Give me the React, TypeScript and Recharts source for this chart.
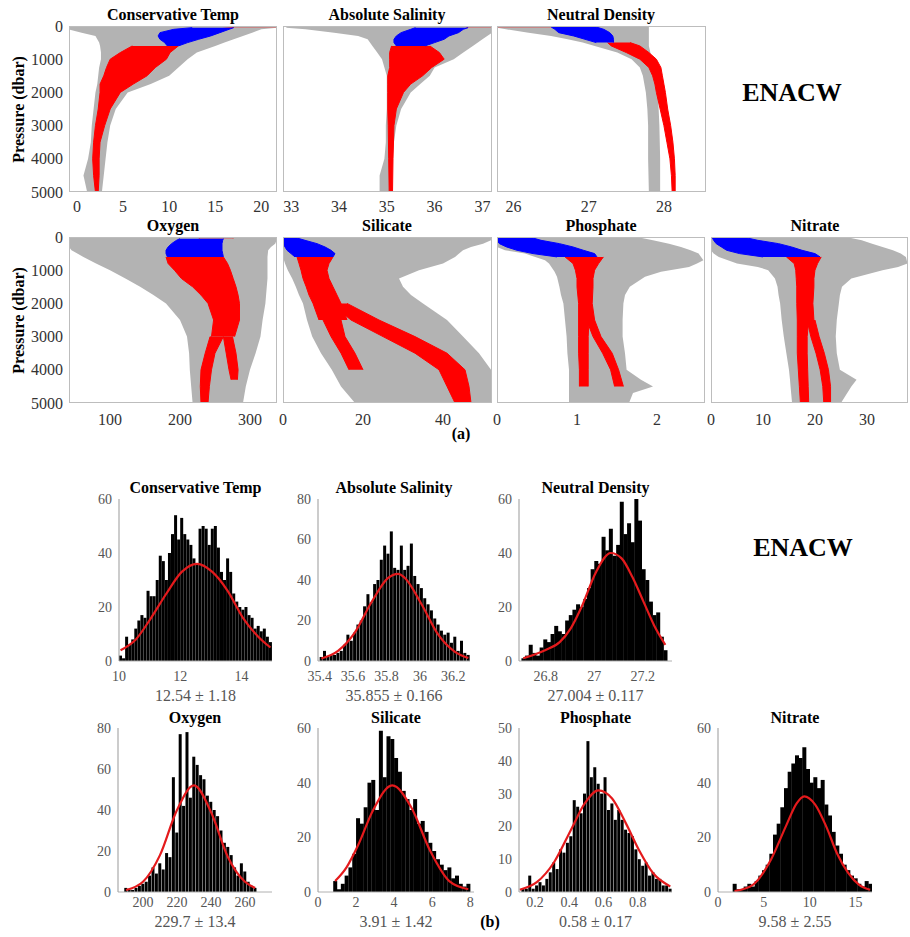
import { ComposedChart, Area, Bar, Line, XAxis, YAxis } from "recharts"

const SERIF = '"Liberation Serif", "DejaVu Serif", serif'
const GRAY = "#b3b3b3"
const RED = "#ff0000"
const BLUE = "#0000ff"
const FIT = "#e41a1c"

const pressureTicks = [0, 1000, 2000, 3000, 4000, 5000]

// ---- (a) profiles: [pressure, low, high] ----
const ctGray = [[0,-0.9,21.7],[50,-0.9,21.7],[100,-0.9,20],[200,0.5,19],[300,2,18],[400,2.2,17],[500,2.4,16],[600,2.5,15],[800,2.6,13],[1000,2.6,12],[1250,2.4,11],[1500,2.3,10],[1750,2.2,8],[2000,2,5.5],[2500,1.8,4.2],[3000,1.6,3.6],[3500,1.5,3.3],[4000,1.2,3.1],[4500,0.7,2.9],[5000,1.1,2.7]]
const ctRed = [[600,6,11],[800,4.7,10.1],[1000,3.6,9.7],[1250,3.2,8.5],[1500,2.9,7.6],[1750,2.5,6.1],[2000,2.5,4.7],[2500,2.3,3.6],[3000,2,3],[3500,1.8,2.5],[4000,1.7,2.4],[4500,1.8,2.4],[5000,2,2.3]]
const ctRedTop = [[0,15,21.7],[40,17,21.7]]
const ctBlue = [[50,12.5,17],[100,10.5,16.5],[200,9,15.5],[300,8.8,14.5],[400,9,13.2],[500,9.5,12],[600,9.8,11]]

const asGray = [[0,32.9,37.2],[50,32.9,37.2],[100,33.3,37.2],[200,33.9,37.2],[300,34.4,37.1],[400,34.6,37],[600,34.7,36.8],[800,34.8,36.6],[1000,34.9,36.4],[1250,34.95,36],[1500,35,35.9],[1750,35,35.7],[2000,35,35.5],[2500,35,35.3],[3000,34.98,35.2],[3500,34.98,35.15],[4000,34.95,35.12],[4500,34.85,35.1],[5000,34.85,35.1]]
const asRed = [[600,35.1,35.9],[800,35.06,36.1],[1000,35.06,36.2],[1250,35.06,35.94],[1500,35.02,35.75],[1750,35.02,35.5],[2000,35.02,35.35],[2500,35.02,35.2],[3000,35.03,35.15],[4000,35.04,35.13],[5000,35.05,35.12]]
const asRedTop = [[0,36.6,37.2],[40,36.7,37.2]]
const asBlue = [[50,35.6,36.7],[100,35.5,36.6],[200,35.3,36.5],[300,35.2,36.3],[400,35.15,36.2],[500,35.15,36],[600,35.2,35.8]]

const ndGray = [[0,25.78,27.8],[50,25.78,27.8],[100,25.9,27.8],[200,26.2,27.8],[300,26.5,27.8],[400,26.72,27.8],[500,26.92,27.8],[600,27.08,27.8],[800,27.38,27.82],[1000,27.57,27.84],[1250,27.68,27.86],[1500,27.72,27.88],[2000,27.76,27.92],[2500,27.78,27.93],[3000,27.79,27.94],[4000,27.79,27.95],[5000,27.8,27.95]]
const ndRed = [[500,27.25,27.55],[600,27.3,27.68],[800,27.5,27.8],[1000,27.68,27.9],[1250,27.8,27.96],[1500,27.85,27.98],[1750,27.88,28],[2000,27.9,28.02],[2500,27.95,28.05],[3000,28,28.09],[3500,28.04,28.12],[4000,28.08,28.14],[4500,28.1,28.15],[5000,28.11,28.15]]
const ndRedTop = [[0,25.78,27.1],[40,25.78,27]]
const ndBlue = [[30,26.5,27.1],[100,26.55,27.2],[200,26.6,27.28],[300,26.8,27.32],[400,26.95,27.33],[500,27.1,27.33]]

const o2Gray = [[0,41.4,338],[100,41.4,338],[200,41.4,336],[300,41.4,330],[400,45,326],[600,62,325],[800,80,325],[1000,100,325],[1250,122,325],[1500,143,324],[1750,162,323],[2000,180,322],[2500,200,318],[3000,210,315],[3500,213,308],[4000,214,300],[4500,216,294],[5000,218,290]]
const o2Red = [[600,180,262],[800,183,268],[1000,192,272],[1250,202,276],[1500,218,280],[1750,230,283],[2000,240,285],[2500,248,285],[3000,245,278]]
const o2RedL = [[3000,243,262],[3500,236,250],[4000,230,245],[4500,229,242],[5000,230,240]]
const o2RedR = [[3000,262,275],[3500,266,280],[4000,270,283],[4300,273,282]]
const o2RedTop = [[0,225,276],[40,228,276]]
const o2Blue = [[50,200,262],[100,195,261],[200,188,260],[300,183,260],[400,180,260],[500,180,261],[600,182,262]]

const siGray = [[0,0,52],[100,0,52],[200,0,50],[300,0,47],[400,0,45],[600,0,43],[800,0.5,40],[1000,1.2,34],[1250,2.3,29],[1500,3.2,30],[1750,4,32],[2000,5,35],[2500,6,41],[3000,7.3,45],[3500,9.5,49],[4000,12.2,52],[4500,14.5,52],[5000,18,52]]
const siRed = [[600,3.5,12.5],[800,4,11.5],[1000,4.5,11],[1250,5,11.5],[1500,5.8,12.5],[1750,6.5,13.5],[2000,7.5,14.5],[2500,9,16]]
const siRedL = [[2500,10,14.5],[3000,12,15.5],[3500,14.5,18],[4000,16.5,20]]
const siRedR = [[2000,12,16],[2500,17,24],[3000,25,33],[3500,33,41],[4000,39,45.5],[4500,41,46.5],[5000,43,47]]
const siRedTop = [[0,0,1.8],[40,0,1.5]]
const siBlue = [[30,0,3.5],[100,0,5.5],[200,0,8.5],[300,0.5,10.5],[400,1,12],[500,2,13],[600,3,12.5]]

const po4Gray = [[0,0,1.75],[100,0,1.95],[200,0,2.15],[300,0,2.3],[400,0.1,2.42],[500,0.35,2.52],[700,0.6,2.58],[800,0.65,2.5],[900,0.68,2.4],[1050,0.72,2.05],[1200,0.75,1.85],[1500,0.78,1.66],[1750,0.8,1.6],[2000,0.83,1.58],[2500,0.85,1.57],[3000,0.87,1.57],[3500,0.88,1.6],[4000,0.9,1.62],[4300,0.9,1.8],[4500,0.9,1.95],[4700,0.9,1.7],[5000,0.9,1.65]]
const po4Red = [[600,0.85,1.33],[800,0.95,1.27],[1000,0.98,1.22],[1250,1,1.2],[1500,1,1.2],[2000,1.02,1.19],[2500,1.02,1.22]]
const po4RedL = [[2500,1.02,1.15],[3000,1.02,1.14],[3500,1.02,1.14],[4000,1.03,1.14],[4500,1.03,1.14]]
const po4RedR = [[2500,1.12,1.22],[3000,1.2,1.3],[3500,1.32,1.44],[4000,1.42,1.52],[4500,1.47,1.58]]
const po4RedTop = [[0,0,0.3],[40,0,0.25]]
const po4Blue = [[30,0,0.45],[100,0,0.55],[200,0.03,0.78],[300,0.12,0.95],[400,0.25,1.08],[500,0.45,1.22],[600,0.75,1.25]]

const no3Gray = [[0,0,26],[100,0,29],[200,0,31],[300,0,33],[400,0,35],[500,0.5,36.5],[600,1.5,37.5],[800,5,37.8],[900,9,36],[1000,11,33],[1250,12.3,27],[1500,12.8,25.2],[1750,13,24.8],[2000,13.3,24.6],[2500,13.6,24.2],[3000,14,24],[3500,14.5,24.2],[4000,15,24.8],[4300,15.2,28],[4500,15.3,27],[5000,15.6,25]]
const no3Red = [[600,14.5,21.2],[800,16,20.5],[1000,16.3,20],[1250,16.4,19.8],[1500,16.5,19.8],[2000,16.5,19.6],[2500,16.6,19.8]]
const no3RedL = [[2500,16.6,18.8],[3000,16.6,18.5],[3500,16.6,18.5],[4000,16.8,18.6],[4500,17,18.7],[5000,17.2,18.8]]
const no3RedR = [[2500,18.5,20],[3000,19.2,20.8],[3500,20.2,21.8],[4000,21,22.6],[4500,21.5,23],[5000,21.7,23]]
const no3RedTop = [[0,0,4],[40,0,3.5]]
const no3Blue = [[30,0.3,7],[100,0.5,9],[200,1,13],[300,2,15.5],[400,3,17.5],[500,5.5,20],[600,10,21]]

// ---- (b) histograms: counts per bin, fitted curve samples ----
const ctCounts = [2,1,9,6,8,12,15,17,16,26,24,24,30,39,37,30,40,47,54,45,53,47,45,43,38,36,49,50,49,43,49,50,42,33,30,38,33,25,22,20,19,20,17,16,12,13,11,12,9,7]
const ctFit = [[10.05,4],[10.55,8],[11.05,16],[11.55,25],[12.05,33],[12.55,36],[13.05,33],[13.55,26],[14.05,16],[14.55,9],[14.95,5]]
const asCounts = [2,5,2,3,3,4,5,8,13,10,14,18,20,27,33,29,38,40,50,57,53,64,46,45,57,45,47,58,42,38,36,31,28,25,21,18,15,13,14,9,12,5,10,4,3]
const asFit = [[35.41,1.2],[35.51,5],[35.61,14],[35.71,29],[35.81,41],[35.87,43],[35.91,41],[36.01,28],[36.11,13],[36.21,4.5],[36.29,1.5]]
const ndCounts = [1,2,6,3,2,5,8,7,10,13,11,10,15,17,19,21,20,23,27,34,37,36,46,41,49,39,43,59,47,51,44,60,52,34,30,22,17,18,9,4]
const ndFit = [[26.7075,1],[26.7975,4],[26.8575,7],[26.9025,12],[26.9475,20],[27.0075,33],[27.0675,40],[27.1125,38],[27.1575,31],[27.2025,22],[27.2475,13],[27.2925,6]]
const o2Counts = [2,1,1,2,3,4,5,8,12,9,14,11,19,17,56,29,77,42,78,46,66,62,57,55,47,44,40,37,30,24,22,18,12,8,14,10,5,3,2]
const o2Fit = [[190,1],[200,5],[210,18],[220,40],[230,52],[240,39],[250,17],[260,5],[266,2]]
const siCounts = [4,1,3,6,9,14,27,25,31,40,41,30,59,42,57,56,49,44,37,34,30,34,25,26,22,18,15,12,10,8,9,5,6,3,2,3]
const siFit = [[0.9,4],[1.5,9],[2.1,17],[2.9,30],[3.9,39],[4.9,31],[5.9,15],[6.9,4],[7.9,1]]
const po4Counts = [0,1,1,5,1,2,3,2,4,6,9,7,13,12,15,17,28,26,24,30,46,35,38,33,30,35,25,27,22,25,22,19,18,17,13,10,8,9,5,6,4,4,2,2,1]
const po4Fit = [[0.11,0.7],[0.21,3],[0.31,9],[0.41,19],[0.49,27],[0.57,31],[0.65,28.5],[0.73,21],[0.81,12.5],[0.89,5.7],[0.99,1.7]]
const no3Counts = [3,1,1,2,3,2,4,6,8,10,14,21,25,31,38,44,47,50,49,53,45,40,42,38,41,32,28,22,17,14,10,8,6,5,3,2,4,3]
const no3Fit = [[1.8,0.3],[3.8,2.6],[5.8,12],[7.4,24],[8.6,32.5],[9.4,35],[10.6,32],[11.8,24],[13,14],[14.2,7],[15.4,2.6],[16.6,0.8]]

const toRows = (t: number[][]) => t.map(([p, lo, hi]) => ({ p, v: [lo, hi] }))

function Profile({ x, y, w, h, domain, ticks, title, showY, gray, reds, blue }: any) {
  const W = 60, H = 30, M = 12
  return (
    <>
      <div style={{ position: "absolute", left: x - W - M, top: y - M }}>
        <ComposedChart layout="vertical" width={w + W + 2 * M} height={h + H + M}
          margin={{ top: M, right: M, bottom: 0, left: M }}>
          <XAxis type="number" domain={domain} ticks={ticks} allowDataOverflow interval={0}
            axisLine={false} tickLine={false} tickSize={0} tickMargin={y > 100 ? 11 : 9} height={H}
            tick={{ fontSize: 16, fill: "#333", fontFamily: SERIF }} />
          <YAxis type="number" dataKey="p" domain={[0, 5000]} ticks={pressureTicks} allowDataOverflow
            interval={0} width={W} axisLine={false} tickLine={false} tickSize={0} tickMargin={6}
            tick={showY ? { fontSize: 16, fill: "#333", fontFamily: SERIF } : false} />
          <Area data={toRows(gray)} dataKey="v" type="linear" fill={GRAY} fillOpacity={1} stroke="none" isAnimationActive={false} />
          {reds.map((r: number[][], i: number) => (
            <Area key={i} data={toRows(r)} dataKey="v" type="linear" fill={RED} fillOpacity={1} stroke={RED} strokeWidth={1} isAnimationActive={false} />
          ))}
          <Area data={toRows(blue)} dataKey="v" type="linear" fill={BLUE} fillOpacity={1} stroke={BLUE} strokeWidth={1} isAnimationActive={false} />
        </ComposedChart>
      </div>
      <div style={{ position: "absolute", left: x, top: y, width: w, height: h, border: "1px solid #bdbdbd", boxSizing: "border-box" }} />
      <div style={{ position: "absolute", left: x + 104 - 100, top: y - 21, width: 200, textAlign: "center", fontFamily: SERIF, fontWeight: "bold", fontSize: 16, lineHeight: "20px" }}>{title}</div>
    </>
  )
}

function Hist({ x, y, w, h, domain, xTicks, yMax, yTicks, lo, bw, counts, fit, title, stats, titleY, statsY, tickGap }: any) {
  const rows = counts.map((n: number, i: number) => ({ x: +(lo + bw * (i + 0.5)).toFixed(5), n, fit: null as number | null }))
  fit.forEach(([fx, fy]: number[]) => {
    const i = Math.round((fx - lo) / bw - 0.5)
    if (rows[i]) rows[i].fit = fy
  })
  const W = 40, H = 26, M = 12
  const cx = x + w / 2
  return (
    <>
      <div style={{ position: "absolute", left: x - W - M, top: y - M }}>
        <ComposedChart width={w + W + 2 * M} height={h + H + M} data={rows}
          margin={{ top: M, right: M, bottom: 0, left: M }} barCategoryGap={0} barGap={0}>
          <XAxis type="number" dataKey="x" domain={domain} ticks={xTicks} allowDataOverflow interval={0}
            axisLine={{ stroke: "#b0b0b0" }} tickLine={false} tickSize={0} tickMargin={tickGap} height={H}
            tick={{ fontSize: 14, fill: "#555", fontFamily: SERIF }} />
          <YAxis type="number" domain={[0, yMax]} ticks={yTicks} allowDataOverflow interval={0} width={W}
            axisLine={{ stroke: "#999" }} tickLine={false} tickSize={0} tickMargin={7}
            tick={{ fontSize: 14, fill: "#555", fontFamily: SERIF }} />
          <Bar dataKey="n" fill="#000" isAnimationActive={false} />
          <Line dataKey="fit" type="monotone" stroke={FIT} strokeWidth={2.2} dot={false} connectNulls isAnimationActive={false} />
        </ComposedChart>
      </div>
      <div style={{ position: "absolute", left: cx - 100, top: titleY - 10, width: 200, textAlign: "center", fontFamily: SERIF, fontWeight: "bold", fontSize: 16, lineHeight: "20px" }}>{title}</div>
      <div style={{ position: "absolute", left: cx - 100, top: statsY - 10, width: 200, textAlign: "center", fontFamily: SERIF, fontSize: 16, color: "#555", lineHeight: "20px" }}>{stats}</div>
    </>
  )
}

const Txt = ({ x, y, size, children, bold = true, rotate = false }: any) => (
  <div style={{ position: "absolute", left: x - 110, top: y - size * 0.65, width: 220, textAlign: "center", fontFamily: SERIF, fontWeight: bold ? "bold" : "normal", fontSize: size, lineHeight: `${size * 1.3}px`, transform: rotate ? "rotate(-90deg)" : undefined }}>{children}</div>
)

export default function App() {
  return (
    <div style={{ position: "absolute", left: 0, top: 0, width: 910, height: 937, background: "#fff", overflow: "hidden" }}>
      <Profile x={69} y={26} w={208} h={166} domain={[-0.87, 21.7]} ticks={[0, 5, 10, 15, 20]} title="Conservative Temp" showY gray={ctGray} reds={[ctRed, ctRedTop]} blue={ctBlue} />
      <Profile x={283} y={26} w={209} h={166} domain={[32.83, 37.2]} ticks={[33, 34, 35, 36, 37]} title="Absolute Salinity" gray={asGray} reds={[asRed, asRedTop]} blue={asBlue} />
      <Profile x={497} y={26} w={209} h={166} domain={[25.78, 28.56]} ticks={[26, 27, 28]} title="Neutral Density" gray={ndGray} reds={[ndRed, ndRedTop]} blue={ndBlue} />

      <Profile x={69} y={237} w={208} h={166} domain={[41.4, 338.6]} ticks={[100, 200, 300]} title="Oxygen" showY gray={o2Gray} reds={[o2Red, o2RedL, o2RedR, o2RedTop]} blue={o2Blue} />
      <Profile x={283} y={237} w={209} h={166} domain={[0, 52.25]} ticks={[0, 20, 40]} title="Silicate" gray={siGray} reds={[siRed, siRedL, siRedR, siRedTop]} blue={siBlue} />
      <Profile x={497} y={237} w={208} h={166} domain={[0, 2.6]} ticks={[0, 1, 2]} title="Phosphate" gray={po4Gray} reds={[po4Red, po4RedL, po4RedR, po4RedTop]} blue={po4Blue} />
      <Profile x={711} y={237} w={197} h={166} domain={[0, 37.9]} ticks={[0, 10, 20, 30]} title="Nitrate" gray={no3Gray} reds={[no3Red, no3RedL, no3RedR, no3RedTop]} blue={no3Blue} />

      <Txt x={19} y={109} size={16} rotate>Pressure (dbar)</Txt>
      <Txt x={19} y={320} size={16} rotate>Pressure (dbar)</Txt>
      <Txt x={792} y={93} size={26}>ENACW</Txt>
      <Txt x={461} y={434} size={16}>(a)</Txt>

      <Hist x={119} y={499} w={153} h={162} domain={[10, 15]} xTicks={[10, 12, 14]} yMax={60} yTicks={[0, 20, 40, 60]} lo={10} bw={0.1} counts={ctCounts} fit={ctFit} title="Conservative Temp" stats="12.54 ± 1.18" titleY={488} statsY={696} tickGap={10} />
      <Hist x={318} y={499} w={152} h={162} domain={[35.39, 36.3]} xTicks={[35.4, 35.6, 35.8, 36, 36.2]} yMax={80} yTicks={[0, 20, 40, 60, 80]} lo={35.4} bw={0.02} counts={asCounts} fit={asFit} title="Absolute Salinity" stats="35.855 ± 0.166" titleY={488} statsY={696} tickGap={10} />
      <Hist x={519} y={499} w={153} h={162} domain={[26.69, 27.32]} xTicks={[26.8, 27, 27.2]} yMax={60} yTicks={[0, 20, 40, 60]} lo={26.7} bw={0.015} counts={ndCounts} fit={ndFit} title="Neutral Density" stats="27.004 ± 0.117" titleY={488} statsY={696} tickGap={10} />
      <Txt x={803} y={548} size={26}>ENACW</Txt>

      <Hist x={118} y={728} w={154} h={164} domain={[185.3, 275.9]} xTicks={[200, 220, 240, 260]} yMax={80} yTicks={[0, 20, 40, 60, 80]} lo={189} bw={2} counts={o2Counts} fit={o2Fit} title="Oxygen" stats="229.7 ± 13.4" titleY={718} statsY={922} tickGap={5} />
      <Hist x={318} y={728} w={156} h={164} domain={[0, 8.2]} xTicks={[0, 2, 4, 6, 8]} yMax={60} yTicks={[0, 20, 40, 60]} lo={0.8} bw={0.2} counts={siCounts} fit={siFit} title="Silicate" stats="3.91 ± 1.42" titleY={718} statsY={922} tickGap={5} />
      <Hist x={519} y={728} w={153} h={164} domain={[0.106, 1.0]} xTicks={[0.2, 0.4, 0.6, 0.8]} yMax={50} yTicks={[0, 10, 20, 30, 40, 50]} lo={0.1} bw={0.02} counts={po4Counts} fit={po4Fit} title="Phosphate" stats="0.58 ± 0.17" titleY={718} statsY={922} tickGap={5} />
      <Hist x={718} y={728} w={154} h={164} domain={[0, 16.8]} xTicks={[0, 5, 10, 15]} yMax={60} yTicks={[0, 20, 40, 60]} lo={1.6} bw={0.4} counts={no3Counts} fit={no3Fit} title="Nitrate" stats="9.58 ± 2.55" titleY={718} statsY={922} tickGap={5} />
      <Txt x={490} y={922} size={16}>(b)</Txt>
    </div>
  )
}
